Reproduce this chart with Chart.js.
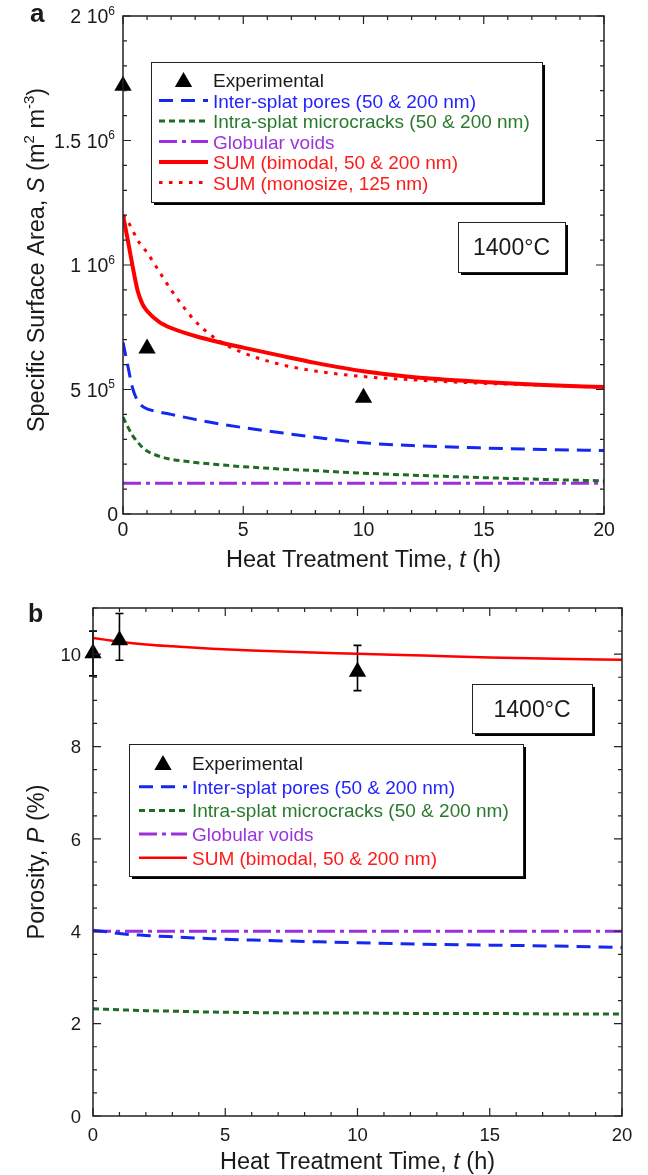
<!DOCTYPE html>
<html>
<head>
<meta charset="utf-8">
<script src="https://cdn.jsdelivr.net/npm/chart.js@4.4.1/dist/chart.umd.min.js"></script>
<style>
  html, body { margin: 0; padding: 0; background: #fff; }
  #wrap { position: relative; width: 648px; height: 1175px; }
  canvas { position: absolute; left: 0; }
  #ca { top: 0; }
  #cb { top: 575px; }
</style>
</head>
<body>
<div id="wrap">
  <canvas id="ca" width="648" height="575"></canvas>
  <canvas id="cb" width="648" height="600"></canvas>
</div>
<script>
// ---- panel a: specific surface area S (m^2 m^-3) vs time (h) ----
const hoursA = [0, 0.2, 0.4, 0.6, 0.8, 1, 1.5, 2, 3, 4, 5, 6.5, 8, 10, 12, 15, 17.5, 20];
const interSplatA = [6.9e5, 5.95e5, 5.05e5, 4.56e5, 4.33e5, 4.22e5, 4.1e5, 4.0e5, 3.8e5, 3.62e5, 3.47e5, 3.27e5, 3.08e5, 2.86e5, 2.75e5, 2.65e5, 2.59e5, 2.55e5];
const microcracksA = [3.89e5, 3.5e5, 3.15e5, 2.9e5, 2.68e5, 2.53e5, 2.32e5, 2.2e5, 2.07e5, 1.98e5, 1.9e5, 1.81e5, 1.74e5, 1.64e5, 1.56e5, 1.46e5, 1.39e5, 1.33e5];
const sumBimodalA = [12.0e5, 11.0e5, 9.95e5, 9.0e5, 8.45e5, 8.15e5, 7.72e5, 7.47e5, 7.15e5, 6.9e5, 6.68e5, 6.37e5, 6.07e5, 5.73e5, 5.5e5, 5.3e5, 5.18e5, 5.1e5];
const sumMonoA = [12.0e5, 11.75e5, 11.4e5, 11.0e5, 10.75e5, 10.5e5, 9.75e5, 9.0e5, 7.75e5, 6.95e5, 6.47e5, 6.02e5, 5.74e5, 5.52e5, 5.39e5, 5.25e5, 5.17e5, 5.09e5];
const voidHoursA = [0, 20];
const voidsA = [1.23e5, 1.23e5];
const expHoursA = [0, 1, 10];
const expSurfA = [1.72e6, 6.65e5, 4.67e5];
const xTicksA = [0, 5, 10, 15, 20];
const yTicksA = [0, 5e5, 1e6, 1.5e6, 2e6];
const yMantA = ['0', '5', '1', '1.5', '2'];
const yExpA = ['', '5', '6', '6', '6'];

// ---- panel b: porosity P (%) vs time (h) ----
const hoursB = [0, 0.5, 1, 2, 3, 4.5, 6, 8, 10, 12.5, 15, 17.5, 20];
const interSplatB = [4.02, 3.99, 3.95, 3.91, 3.88, 3.84, 3.81, 3.78, 3.75, 3.72, 3.70, 3.68, 3.65];
const microcracksB = [2.32, 2.31, 2.30, 2.28, 2.27, 2.25, 2.24, 2.23, 2.23, 2.22, 2.22, 2.21, 2.21];
const sumB = [10.35, 10.31, 10.27, 10.21, 10.17, 10.12, 10.08, 10.04, 10.01, 9.97, 9.93, 9.90, 9.88];
const voidHoursB = [0, 20];
const voidsB = [4.0, 4.0];
const expHoursB = [0, 1, 10];
const expPorB = [10.02, 10.3, 9.62];
const expLowB = [9.53, 9.87, 9.21];
const expHighB = [10.5, 10.88, 10.19];
const xTicksB = [0, 5, 10, 15, 20];
const yTicksB = [0, 2, 4, 6, 8, 10];

const FONT = '"Liberation Sans", Arial, Helvetica, sans-serif';
const INK = '#1a1a1a';
const BLUE = '#1428f0', GREEN = '#1e6b23', PURPLE = '#9b2fe0', RED = '#ff0000';

const pts = (xs, ys) => xs.map((x, i) => ({ x, y: ys[i] }));

function curve(label, xs, ys, color, width, dash, legendColor) {
  return {
    label, data: pts(xs, ys), borderColor: color, borderWidth: width, borderDash: dash,
    showLine: true, pointRadius: 0, fill: false, cubicInterpolationMode: 'monotone',
    borderCapStyle: 'butt', borderJoinStyle: 'round', legendColor: legendColor || color,
  };
}
function experimental(xs, ys) {
  return {
    label: 'Experimental', data: pts(xs, ys), showLine: false, pointStyle: 'triangle',
    pointRadius: 10, pointBackgroundColor: '#000', pointBorderColor: '#000', pointBorderWidth: 0,
    clip: false, legendColor: INK, isMarker: true,
  };
}

// text with italic / superscript pieces, baseline at y
function rich(ctx, segs, x, y, size, align) {
  const f = (s) => (s.it ? 'italic ' : '') + (s.sup ? Math.round(size * 0.62) : size) + 'px ' + FONT;
  let w = 0;
  segs.forEach((s) => { ctx.font = f(s); w += ctx.measureText(s.t).width; });
  let cx = align === 'center' ? x - w / 2 : align === 'right' ? x - w : x;
  ctx.textAlign = 'left'; ctx.textBaseline = 'alphabetic';
  segs.forEach((s) => {
    ctx.font = f(s);
    ctx.fillText(s.t, cx, s.sup ? y - size * 0.42 : y);
    cx += ctx.measureText(s.t).width;
  });
}

function shadowBox(ctx, x, y, w, h) {
  ctx.fillStyle = '#000';
  ctx.fillRect(x + 3, y + 3, w, h);
  ctx.fillStyle = '#fff';
  ctx.fillRect(x, y, w, h);
  ctx.lineWidth = 1; ctx.strokeStyle = '#222';
  ctx.strokeRect(x + 0.5, y + 0.5, w, h);
}

function panelPlugin(p) {
  return {
    id: 'panel_' + p.id,
    beforeDatasetsDraw(chart) {
      if (!p.err) return;
      const ctx = chart.ctx, xs = chart.scales.x, ys = chart.scales.y;
      ctx.save();
      ctx.strokeStyle = '#000'; ctx.lineWidth = 1.6;
      p.err.x.forEach((h, i) => {
        const px = xs.getPixelForValue(h), y0 = ys.getPixelForValue(p.err.lo[i]), y1 = ys.getPixelForValue(p.err.hi[i]);
        ctx.beginPath();
        ctx.moveTo(px, y0); ctx.lineTo(px, y1);
        ctx.moveTo(px - 4, y0); ctx.lineTo(px + 4, y0);
        ctx.moveTo(px - 4, y1); ctx.lineTo(px + 4, y1);
        ctx.stroke();
      });
      ctx.restore();
    },
    afterDraw(chart) {
      const ctx = chart.ctx, a = chart.chartArea, xs = chart.scales.x, ys = chart.scales.y;
      ctx.save();
      // frame
      ctx.strokeStyle = '#222'; ctx.lineWidth = 1.5;
      ctx.strokeRect(a.left, a.top, a.right - a.left, a.bottom - a.top);
      // inward ticks on all four sides
      ctx.lineWidth = 1.2;
      ctx.beginPath();
      const isMajor = (v, m) => Math.abs(v / m - Math.round(v / m)) < 1e-6;
      for (let v = p.x.min; v <= p.x.max + 1e-9; v += p.x.minor) {
        const px = xs.getPixelForValue(v), len = isMajor(v, p.x.major) ? 8 : 4;
        ctx.moveTo(px, a.bottom); ctx.lineTo(px, a.bottom - len);
        ctx.moveTo(px, a.top); ctx.lineTo(px, a.top + len);
      }
      for (let v = p.y.min; v <= p.y.max + 1e-9; v += p.y.minor) {
        const py = ys.getPixelForValue(v), len = isMajor(v, p.y.major) ? 8 : 4;
        ctx.moveTo(a.left, py); ctx.lineTo(a.left + len, py);
        ctx.moveTo(a.right, py); ctx.lineTo(a.right - len, py);
      }
      ctx.stroke();

      // tick labels
      ctx.fillStyle = INK;
      p.xTicks.forEach((v) => {
        rich(ctx, [{ t: String(v) }], xs.getPixelForValue(v), p.xLabelY, p.tickSize, 'center');
      });
      p.yTicks.forEach((v, i) => {
        const py = ys.getPixelForValue(v) + p.tickSize * 0.36;
        if (p.yExp && p.yExp[i]) {
          rich(ctx, [{ t: p.yMant[i] + ' 10' }, { t: p.yExp[i], sup: true }], p.yLabelRight, py, p.tickSize, 'right');
        } else {
          rich(ctx, [{ t: p.yMant ? p.yMant[i] : String(v) }], p.yLabelRight + (p.yExp ? 3 : 0), py, p.tickSize, 'right');
        }
      });

      // axis titles
      rich(ctx, [{ t: 'Heat Treatment Time, ' }, { t: 't', it: true }, { t: ' (h)' }], (a.left + a.right) / 2, p.xTitleY, p.titleSize, 'center');
      ctx.save();
      ctx.translate(p.yTitleX, p.yTitleY);
      ctx.rotate(-Math.PI / 2);
      rich(ctx, p.yTitle, 0, 0, p.titleSize, 'center');
      ctx.restore();

      // panel letter
      ctx.font = 'bold ' + p.letterSize + 'px ' + FONT;
      ctx.textAlign = 'left'; ctx.textBaseline = 'alphabetic';
      ctx.fillText(p.letter, p.letterX, p.letterY);

      // temperature box
      const t = p.temp;
      shadowBox(ctx, t.x, t.y, t.w, t.h);
      ctx.fillStyle = INK;
      rich(ctx, [{ t: '1400°C' }], t.x + t.w / 2, t.y + t.h / 2 + 8, 23, 'center');

      // legend
      const L = p.legend;
      shadowBox(ctx, L.x, L.y, L.w, L.h);
      chart.data.datasets.forEach((ds, i) => {
        const cy = L.rowY + i * L.rowGap;
        if (ds.isMarker) {
          ctx.fillStyle = '#000';
          Chart.helpers.drawPoint(ctx, { pointStyle: 'triangle', radius: 10, rotation: 0, borderWidth: 0 }, (L.lineX0 + L.lineX1) / 2, cy + 2);
        } else {
          ctx.strokeStyle = ds.borderColor; ctx.lineWidth = ds.borderWidth;
          ctx.setLineDash(ds.borderDash || []);
          ctx.beginPath(); ctx.moveTo(L.lineX0, cy); ctx.lineTo(L.lineX1, cy); ctx.stroke();
          ctx.setLineDash([]);
        }
        ctx.fillStyle = ds.legendColor;
        rich(ctx, [{ t: ds.label }], L.textX, cy + 7, 19, 'left');
      });
      ctx.restore();
    },
  };
}

function makePanel(p, datasets) {
  return new Chart(document.getElementById(p.id), {
    type: 'line',
    data: { datasets },
    options: {
      responsive: false, animation: false, devicePixelRatio: 1,
      layout: { padding: p.pad },
      plugins: { legend: { display: false }, tooltip: { enabled: false } },
      scales: {
        x: { type: 'linear', min: p.x.min, max: p.x.max, display: false },
        y: { type: 'linear', min: p.y.min, max: p.y.max, display: false },
      },
    },
    plugins: [panelPlugin(p)],
  });
}

makePanel({
  id: 'ca', pad: { left: 123, top: 16, right: 44, bottom: 61 },
  x: { min: 0, max: 20, minor: 1, major: 5 }, y: { min: 0, max: 2e6, minor: 1e5, major: 5e5 },
  xTicks: xTicksA, yTicks: yTicksA, yMant: yMantA, yExp: yExpA,
  tickSize: 19.5, titleSize: 23.5, xLabelY: 536, yLabelRight: 115,
  xTitleY: 567, yTitleX: 44, yTitleY: 260,
  yTitle: [{ t: 'Specific Surface Area, ' }, { t: 'S', it: true }, { t: ' (m' }, { t: '2', sup: true }, { t: ' m' }, { t: '-3', sup: true }, { t: ')' }],
  letter: 'a', letterX: 30, letterY: 22, letterSize: 26,
  temp: { x: 458, y: 222, w: 107, h: 50 },
  legend: { x: 151, y: 62, w: 391, h: 140, rowY: 80, rowGap: 20.5, lineX0: 159, lineX1: 208, textX: 213 },
}, [
  experimental(expHoursA, expSurfA),
  curve('Inter-splat pores (50 & 200 nm)', hoursA, interSplatA, BLUE, 3, [14, 8], '#2323ff'),
  curve('Intra-splat microcracks (50 & 200 nm)', hoursA, microcracksA, GREEN, 3, [6, 4], '#2a7a2e'),
  curve('Globular voids', voidHoursA, voidsA, PURPLE, 3, [18, 5, 4, 5], '#9a35dd'),
  curve('SUM (bimodal, 50 & 200 nm)', hoursA, sumBimodalA, RED, 4, [], '#ff1a1a'),
  curve('SUM (monosize, 125 nm)', hoursA, sumMonoA, RED, 3, [3.5, 6.5], '#ff1a1a'),
]);

makePanel({
  id: 'cb', pad: { left: 93, top: 33, right: 26, bottom: 59 },
  x: { min: 0, max: 20, minor: 1, major: 5 }, y: { min: 0, max: 11, minor: 0.5, major: 2 },
  xTicks: xTicksB, yTicks: yTicksB,
  tickSize: 18.5, titleSize: 23.5, xLabelY: 566, yLabelRight: 81,
  xTitleY: 594, yTitleX: 44, yTitleY: 287,
  yTitle: [{ t: 'Porosity, ' }, { t: 'P', it: true }, { t: ' (%)' }],
  letter: 'b', letterX: 28, letterY: 47, letterSize: 25,
  temp: { x: 472, y: 109, w: 120, h: 49 },
  legend: { x: 129, y: 169, w: 394, h: 132, rowY: 188, rowGap: 23.7, lineX0: 139, lineX1: 187, textX: 192 },
  err: { x: expHoursB, lo: expLowB, hi: expHighB },
}, [
  experimental(expHoursB, expPorB),
  curve('Inter-splat pores (50 & 200 nm)', hoursB, interSplatB, BLUE, 3, [14, 8], '#2323ff'),
  curve('Intra-splat microcracks (50 & 200 nm)', hoursB, microcracksB, GREEN, 3, [6, 4], '#2a7a2e'),
  curve('Globular voids', voidHoursB, voidsB, PURPLE, 3, [18, 5, 4, 5], '#9a35dd'),
  curve('SUM (bimodal, 50 & 200 nm)', hoursB, sumB, RED, 2.5, [], '#ff1a1a'),
]);
</script>
</body>
</html>
